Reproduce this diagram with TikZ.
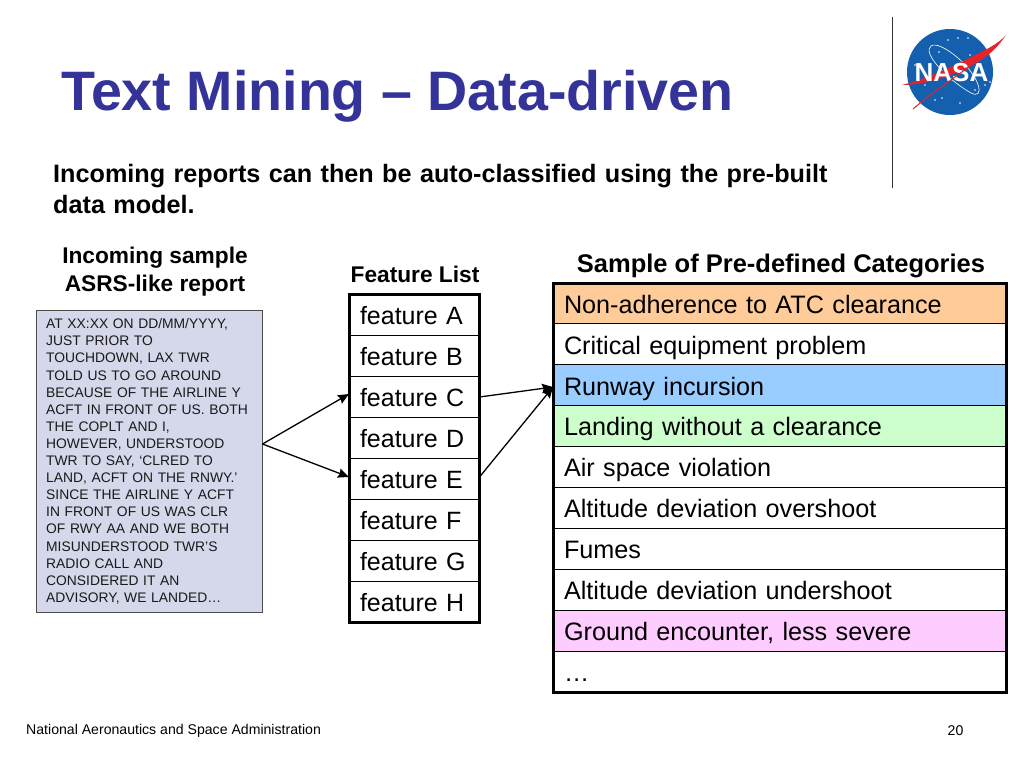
\documentclass[tikz,border=0pt]{standalone}
\usepackage{fontspec}
\setmainfont{Liberation Sans}
\usetikzlibrary{arrows.meta}
\definecolor{titleblue}{HTML}{333399}
\definecolor{reportfill}{HTML}{D5D7EA}
\definecolor{catorange}{HTML}{FFCC99}
\definecolor{catblue}{HTML}{99CCFF}
\definecolor{catgreen}{HTML}{CCFFCC}
\definecolor{catpink}{HTML}{FFCCFF}
\definecolor{nasablue}{HTML}{1560AE}
\definecolor{nasared}{HTML}{E3242B}
\newcommand{\fs}[2]{\fontsize{#1pt}{#2pt}\selectfont}
\tikzset{
  x=1pt,y=-1pt,
  rowcell/.style={draw=black,line width=1pt,anchor=north west,inner sep=0pt,outer sep=0pt,text height=19.5pt,text depth=0pt},
  featcell/.style={rowcell,minimum width=130.5pt,minimum height=41pt,text width=130.5pt,align=left,font=\fs{25}{25}},
  catcell/.style={rowcell,minimum width=453pt,minimum height=40.9pt,text width=453pt,align=left,font=\fs{25.2}{25}},
  frame/.style={draw=black,line width=3pt,fill=none},
  link/.style={draw=black,line width=1.3pt,-{Stealth[length=11pt,width=9.5pt,inset=1.5pt]}},
  heading/.style={font=\fs{22.7}{28}\bfseries,align=center,inner sep=0pt},
  plain/.style={inner sep=0pt,anchor=west}
}
\begin{document}
\begin{tikzpicture}
\useasboundingbox (0,0) rectangle (1024,768);
\fill[white] (0,0) rectangle (1024,768);
% title
\node[plain,text=titleblue,font=\fs{55.6}{60}\bfseries] (title) at (61,96) {Text Mining – Data-driven};
\node[anchor=north west,inner sep=0pt,text width=800pt,align=left,font=\fs{25.2}{31.5}\bfseries] (lead) at (53,164) {Incoming reports can then be auto-classified using the pre-built\\data model.};
% rule and logo
\coordinate (ruleA) at (892,17);
\coordinate (ruleB) at (892,188);
\draw[line width=1pt,black!80] (ruleA) -- (ruleB);
\fill[nasablue] (950,72) circle (43);
\draw[white,line width=.6pt] (931,46) .. controls (922,52) and (945,78) .. (971,93) .. controls (985,100) and (981,78) .. (958,58) .. controls (945,47) and (935,43) .. (931,46);
\foreach \a/\b in {948/40,958/38,968/38,939/52,970/55,925/85,935/100,942/98,975/90,985/85,990/82,960/103,915/65}
  \fill[white] (\a,\b) circle (.8);
\fill[nasared] (1006,35) .. controls (992,56) and (975,66) .. (945,77) .. controls (930,82) and (915,85) .. (902,85) .. controls (925,79) and (955,66) .. (975,55) .. controls (990,48) and (1000,42) .. (1006,35) -- cycle;
\node[text=white,font=\fs{26}{26}\bfseries,inner sep=0pt] (nasa) at (951.5,73) {NASA};
\draw[nasared,line width=1pt] (913,109) .. controls (935,90) and (955,78) .. (975,62);
% headings
\node[heading] (hreport) at (155,272) {Incoming sample\\ASRS-like report};
\node[heading] (hfeat) at (415,274) {Feature List};
\node[heading,font=\fs{25.5}{27}\bfseries] (hcat) at (781,266) {Sample of Pre-defined Categories};
% report
\node[draw=black!70,line width=1pt,fill=reportfill,anchor=north west,inner sep=0pt,minimum width=226pt,minimum height=302pt] (report) at (35.5,310) {};
\node[anchor=north west,inner sep=0pt,text width=215pt,align=left,text=black!90,font=\fs{13.85}{17.1}] (reporttext) at (46,318.5) {AT XX:XX ON DD/MM/YYYY,\\JUST PRIOR TO\\TOUCHDOWN, LAX TWR\\TOLD US TO GO AROUND\\BECAUSE OF THE AIRLINE Y\\ACFT IN FRONT OF US. BOTH\\THE COPLT AND I,\\HOWEVER, UNDERSTOOD\\TWR TO SAY, ‘CLRED TO\\LAND, ACFT ON THE RNWY.’\\SINCE THE AIRLINE Y ACFT\\IN FRONT OF US WAS CLR\\OF RWY AA AND WE BOTH\\MISUNDERSTOOD TWR’S\\RADIO CALL AND\\CONSIDERED IT AN\\ADVISORY, WE LANDED…};
% features
\foreach \n/\t [count=\i from 0] in {A/feature A,B/feature B,C/feature C,D/feature D,E/feature E,F/feature F,G/feature G,H/feature H}{
  \node[featcell] (f\n) at (349,294+41*\i) {\hspace*{11pt}\t};
}
\draw[frame] (fA.north west) rectangle (fH.south east);
% categories
\foreach \n/\c/\t [count=\i from 0] in {
  a/catorange/Non-adherence to ATC clearance,
  b/white/Critical equipment problem,
  c/catblue/Runway incursion,
  d/catgreen/Landing without a clearance,
  e/white/Air space violation,
  f/white/Altitude deviation overshoot,
  g/white/Fumes,
  h/white/Altitude deviation undershoot,
  i/catpink/{Ground encounter, less severe},
  j/white/…}{
  \node[catcell,fill=\c] (c\n) at (553,283+40.9*\i) {\hspace*{11pt}\t};
}
\draw[frame] (ca.north west) rectangle (cj.south east);
% connectors
\coordinate (rp) at (report.east |- 0,444);
\coordinate (fCin) at (fC.west |- 0,394);
\coordinate (fEin) at (fE.west |- 0,477);
\coordinate (fCout) at (fC.east |- 0,397);
\coordinate (fEout) at (fE.east |- 0,477);
\coordinate (cIn) at (cc.west |- 0,387);
\draw[link] (rp) -- (fCin);
\draw[link] (rp) -- (fEin);
\draw[link] (fCout) -- (cIn);
\draw[link] (fEout) -- (cIn);
% footer
\node[plain,font=\fs{14.1}{16}] (foot) at (26,731) {National Aeronautics and Space Administration};
\node[inner sep=0pt,font=\fs{14.1}{16}] (page) at (955.5,731) {20};
\end{tikzpicture}
\end{document}
